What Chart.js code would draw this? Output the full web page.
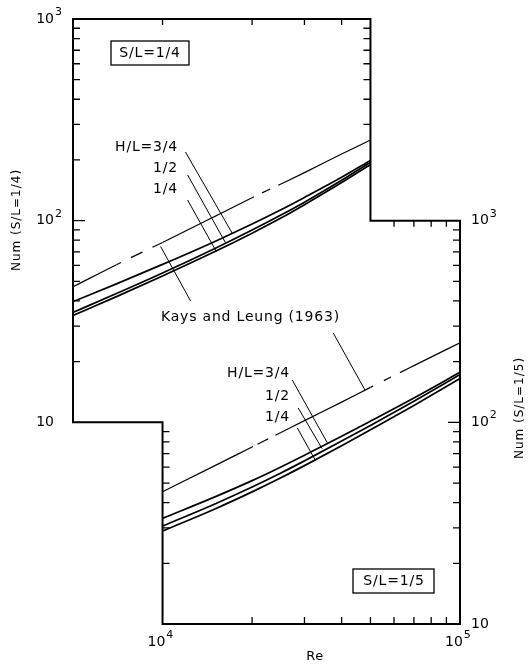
<!DOCTYPE html>
<html>
<head>
<meta charset="utf-8">
<script src="https://cdn.jsdelivr.net/npm/chart.js@4.4.1/dist/chart.umd.min.js"></script>
<style>
  body { margin: 0; background: #fff; }
  #wrap { width: 530px; height: 665px; position: relative; }
</style>
</head>
<body>
<div id="wrap"><canvas id="nuChart"></canvas></div>
<script>
// Re values for the two panels
var reUpper = [5000, 7000, 10000, 15000, 20000, 25000, 30000, 40000, 50000];
var reLower = [10000, 15000, 20000, 25000, 30000, 40000, 50000, 70000, 100000];

// Upper panel, S/L = 1/4 (left axis)
var klUpper = [47, 60.5, 78, 105, 130, 152, 173, 214, 251];
var hl34Upper = [39.7, 48.6, 60.7, 78.9, 96.2, 113.2, 130.3, 164, 199];
var hl12Upper = [35.1, 43.5, 55, 72.8, 89.8, 106.6, 123.5, 158.5, 195];
var hl14Upper = [33.9, 42, 53.2, 70.3, 86.7, 103, 120, 154.5, 190];

// Lower panel, S/L = 1/5 (right axis)
var klLower = [45.3, 61, 75.5, 89, 102, 126, 149, 191, 248];
var hl34Lower = [33.4, 42.7, 51.4, 60.1, 68.7, 85.3, 101.4, 132.1, 177];
var hl12Lower = [30.6, 39.4, 47.8, 56.1, 64.4, 80.7, 96.5, 127.3, 172.5];
var hl14Lower = [28.9, 37.2, 45.2, 53.1, 61, 76.5, 91.8, 121.3, 164.8];

// tick values
var decadesLeft = [10, 100, 1000];
var decadesRight = [10, 100, 1000];
var decadesRe = [10000, 100000];
var minorDecade1 = [20, 30, 40, 50, 60, 70, 80, 90];
var minorDecade2 = [200, 300, 400, 500, 600, 700, 800, 900];
var minorRe = [20000, 30000, 40000, 50000, 60000, 70000, 80000, 90000];

function pts(xs, ys) {
    return xs.map(function (v, i) { return { x: v, y: ys[i] }; });
}

function dashAt(map) {
    return function (ctx) { return map[ctx.p0DataIndex]; };
}

function curve(data, axis, width, dashMap) {
    var ds = {
        data: data,
        yAxisID: axis,
        borderColor: '#000',
        borderWidth: width,
        pointRadius: 0,
        fill: false,
        cubicInterpolationMode: 'monotone'
    };
    if (dashMap) ds.segment = { borderDash: dashAt(dashMap) };
    return ds;
}

var FONT = '"DejaVu Sans", sans-serif';

function label(ctx, text, x, y, align, size, spacing) {
    ctx.font = (size || 14) + 'px ' + FONT;
    ctx.letterSpacing = (spacing === undefined ? 0.8 : spacing) + 'px';
    ctx.textAlign = align || 'left';
    ctx.textBaseline = 'middle';
    ctx.fillText(text, x, y);
}

// "10" with a raised exponent; x is where the "10" starts
function power(ctx, v, x, y) {
    var e = Math.round(Math.log10(v));
    ctx.font = '14px ' + FONT;
    ctx.letterSpacing = '0px';
    ctx.textAlign = 'left';
    ctx.textBaseline = 'middle';
    ctx.fillText('10', x, y);
    var w = ctx.measureText('10').width;
    if (e > 1) {
        ctx.font = '11px ' + FONT;
        ctx.fillText(String(e), x + w + 1, y - 7);
    }
}

function powerWidth(ctx) {
    ctx.font = '14px ' + FONT;
    ctx.letterSpacing = '0px';
    return ctx.measureText('10').width;
}

var frame = {
    id: 'frame',
    afterDatasetsDraw: function (chart) {
        var ctx = chart.ctx;
        var x = chart.scales.x, yL = chart.scales.yL, yR = chart.scales.yR;
        var px = function (v) { return x.getPixelForValue(v); };
        var pl = function (v) { return yL.getPixelForValue(v); };
        var pr = function (v) { return yR.getPixelForValue(v); };

        ctx.save();
        ctx.strokeStyle = '#000';
        ctx.fillStyle = '#000';

        // stepped outline of the two panels
        ctx.lineWidth = 2;
        ctx.beginPath();
        ctx.moveTo(px(5000), pl(1000));
        ctx.lineTo(px(50000), pl(1000));
        ctx.lineTo(px(50000), pr(1000));
        ctx.lineTo(px(100000), pr(1000));
        ctx.lineTo(px(100000), pr(10));
        ctx.lineTo(px(10000), pr(10));
        ctx.lineTo(px(10000), pl(10));
        ctx.lineTo(px(5000), pl(10));
        ctx.closePath();
        ctx.stroke();

        // inward tick marks
        ctx.lineWidth = 1.3;
        ctx.beginPath();
        function side(xp, vals, fn, dir, len) {
            vals.forEach(function (v) {
                var y = fn(v);
                ctx.moveTo(xp, y); ctx.lineTo(xp + dir * len, y);
            });
        }
        function edge(yp, vals, dir, len) {
            vals.forEach(function (v) {
                var xx = px(v);
                ctx.moveTo(xx, yp); ctx.lineTo(xx, yp + dir * len);
            });
        }
        side(px(5000), minorDecade1.concat(minorDecade2), pl, 1, 7);
        side(px(5000), [100], pl, 1, 12);
        side(px(50000), minorDecade2.slice(1), pl, -1, 7);
        edge(pl(1000), [10000, 20000, 30000, 40000], 1, 6);
        edge(pr(1000), [60000, 70000, 80000, 90000], 1, 6);
        side(px(100000), minorDecade1.concat(minorDecade2), pr, -1, 7);
        side(px(100000), [100], pr, -1, 12);
        side(px(10000), minorDecade1, pr, 1, 7);
        edge(pr(10), minorRe, -1, 7);
        ctx.stroke();

        // decade labels
        var w10 = powerWidth(ctx);
        decadesLeft.forEach(function (v) { power(ctx, v, px(5000) - 19 - w10, pl(v)); });
        decadesRight.forEach(function (v) { power(ctx, v, px(100000) + 11, pr(v)); });
        decadesRe.forEach(function (v) { power(ctx, v, px(v) - 15, pr(10) + 18); });

        // leader lines
        ctx.lineWidth = 1;
        ctx.beginPath();
        function lead(r0, v0, r1, v1, fn) {
            ctx.moveTo(px(r0), fn(v0)); ctx.lineTo(px(r1), fn(v1));
        }
        lead(11940, 219, 17180, 86.3, pl);
        lead(12140, 168.5, 16270, 77.8, pl);
        lead(12140, 126.6, 15170, 70.2, pl);
        lead(9850, 74.5, 12420, 40, pl);
        lead(37500, 277, 48000, 144, pr);
        lead(27300, 162, 35800, 79.2, pr);
        lead(28580, 117.8, 34400, 74, pr);
        lead(28380, 93.8, 32600, 65, pr);
        ctx.stroke();

        // labels
        label(ctx, 'H/L=3/4', 178, 147, 'right');
        label(ctx, '1/2', 178, 168, 'right');
        label(ctx, '1/4', 178, 189, 'right');
        label(ctx, 'Kays and Leung (1963)', 161, 317, 'left');
        label(ctx, 'H/L=3/4', 290, 373, 'right');
        label(ctx, '1/2', 290, 396, 'right');
        label(ctx, '1/4', 290, 417, 'right');

        // boxed panel names
        ctx.lineWidth = 1.3;
        ctx.strokeRect(111, 41, 78, 24);
        label(ctx, 'S/L=1/4', 150, 53, 'center');
        ctx.strokeRect(353, 569, 81, 24);
        label(ctx, 'S/L=1/5', 394, 581, 'center');

        // axis titles
        label(ctx, 'Re', 315, 657, 'center', 13, 0.5);
        ctx.save();
        ctx.translate(17, 220);
        ctx.rotate(-Math.PI / 2);
        label(ctx, 'Num (S/L=1/4)', 0, 0, 'center', 12, 1);
        ctx.restore();
        ctx.save();
        ctx.translate(520, 408);
        ctx.rotate(-Math.PI / 2);
        label(ctx, 'Num (S/L=1/5)', 0, 0, 'center', 12, 1);
        ctx.restore();

        ctx.restore();
    }
};

var hidden = { display: false };

var ctx1 = document.getElementById('nuChart').getContext('2d');
var nuChart = new Chart(ctx1, {
    type: 'line',
    data: {
        datasets: [
            curve(pts(reUpper, klUpper), 'yL', 1.2, { 1: [5, 11, 13, 11, 200], 4: [2, 9, 9, 9, 200] }),
            curve(pts(reUpper, hl34Upper), 'yL', 1.7),
            curve(pts(reUpper, hl12Upper), 'yL', 1.7),
            curve(pts(reUpper, hl14Upper), 'yL', 1.7),
            curve(pts(reLower, klLower), 'yR', 1.2, { 2: [1, 5, 12, 8, 200], 6: [3, 12, 8, 10, 200] }),
            curve(pts(reLower, hl34Lower), 'yR', 1.7),
            curve(pts(reLower, hl12Lower), 'yR', 1.7),
            curve(pts(reLower, hl14Lower), 'yR', 1.7)
        ]
    },
    options: {
        responsive: true,
        maintainAspectRatio: false,
        animation: false,
        layout: { padding: { top: 19, left: 0, right: 0, bottom: 0 } },
        plugins: {
            legend: { display: false },
            tooltip: { enabled: false }
        },
        scales: {
            x: {
                type: 'logarithmic',
                position: 'bottom',
                min: 5000,
                max: 100000,
                grid: hidden,
                border: hidden,
                ticks: hidden,
                afterFit: function (s) { s.height = 41; }
            },
            yL: {
                type: 'logarithmic',
                position: 'left',
                min: 1,
                max: 1000,
                grid: hidden,
                border: hidden,
                ticks: hidden,
                afterFit: function (s) { s.width = 73; }
            },
            yR: {
                type: 'logarithmic',
                position: 'right',
                min: 10,
                max: 10000,
                grid: hidden,
                border: hidden,
                ticks: hidden,
                afterFit: function (s) { s.width = 70; }
            }
        }
    },
    plugins: [frame]
});
</script>
</body>
</html>
